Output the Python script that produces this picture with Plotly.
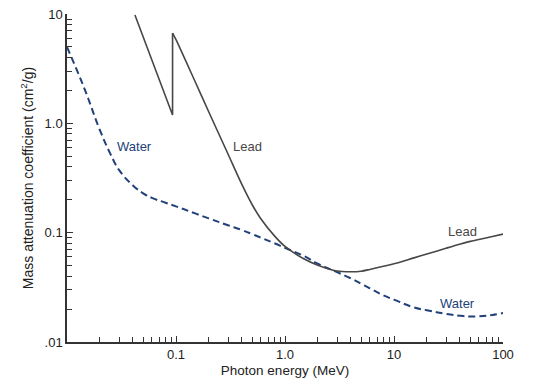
import plotly.graph_objects as go
import numpy as np

# Photon energy (MeV)
water_energy = [0.01, 0.013, 0.015, 0.02, 0.025, 0.03, 0.04, 0.05, 0.06, 0.08, 0.1, 0.15, 0.2, 0.3, 0.4,
                0.5, 0.6, 0.8, 1.0, 1.5, 2, 3, 4, 5, 6, 8, 10, 15, 20, 30, 40, 50, 60, 80, 100]
water_mu = [4.99, 2.7, 1.89, 0.87, 0.526, 0.375, 0.272, 0.229, 0.208, 0.188, 0.174, 0.150, 0.135, 0.117,
            0.106, 0.097, 0.090, 0.080, 0.0725, 0.061, 0.052, 0.0436, 0.0383, 0.0341, 0.031, 0.0267,
            0.0244, 0.0208, 0.0195, 0.0181, 0.0174, 0.0171, 0.0172, 0.0177, 0.0184]

lead_energy = [0.042, 0.05, 0.06, 0.08, 0.093, 0.093, 0.1, 0.15, 0.2, 0.3, 0.4, 0.5, 0.6, 0.8, 1.0,
               1.5, 2, 3, 4, 5, 6, 8, 10, 15, 20, 30, 40, 50, 60, 80, 100]
lead_mu = [9.8, 6.2, 3.86, 1.81, 1.19, 6.7, 5.83, 2.40, 1.27, 0.524, 0.279, 0.180, 0.134, 0.0935, 0.0748,
           0.0574, 0.0504, 0.0446, 0.0439, 0.0444, 0.0461, 0.0493, 0.0519, 0.0585, 0.0637, 0.0721,
           0.0785, 0.0832, 0.0865, 0.0922, 0.097]

x_tick_vals = [0.1, 1, 10, 100]
x_tick_text = ["0.1", "1.0", "10", "100"]
y_tick_vals = [0.01, 0.1, 1, 10]
y_tick_text = [".01", "0.1", "1.0", "10"]

minor_x = [m * 10.0 ** d for d in range(-2, 2) for m in range(2, 10)]
minor_y = [m * 10.0 ** d for d in range(-2, 1) for m in range(2, 10)]

WATER = "#22417a"
LEAD = "#474747"
AX = "#333333"
TXT = "#222222"
FONT = "Liberation Sans, Arial, sans-serif"

EDGE = 5  # index of the top of the lead K-edge

fig = go.Figure()
fig.add_trace(go.Scatter(x=water_energy, y=water_mu, mode="lines",
                         line=dict(color=WATER, width=2, dash="7px,4px", shape="spline", smoothing=1.2),
                         showlegend=False))
fig.add_trace(go.Scatter(x=lead_energy[:EDGE + 1], y=lead_mu[:EDGE + 1], mode="lines",
                         line=dict(color=LEAD, width=1.6), showlegend=False))
fig.add_trace(go.Scatter(x=lead_energy[EDGE:], y=lead_mu[EDGE:], mode="lines",
                         line=dict(color=LEAD, width=1.6, shape="spline", smoothing=0.8),
                         showlegend=False))

annots = [
    ("Water", 0.0412, 0.62, WATER),
    ("Lead", 0.455, 0.62, LEAD),
    ("Lead", 42.1, 0.1035, LEAD),
    ("Water", 38.6, 0.0227, WATER),
]
for t, x, y, c in annots:
    fig.add_annotation(x=np.log10(x), y=np.log10(y), text=t, showarrow=False,
                       font=dict(color=c, size=13, family=FONT))

# page body has an 8px margin, so the figure is drawn 8px smaller and shifted
fig.update_layout(
    width=526, height=373,
    margin=dict(l=59, r=31, t=6, b=39),
    paper_bgcolor="white", plot_bgcolor="white",
    font=dict(family=FONT, size=12, color=TXT),
    xaxis=dict(type="log", range=[-2, 2], showgrid=False, zeroline=False, automargin=False,
               showline=True, linecolor=AX, linewidth=1.5,
               ticks="inside", ticklen=6, tickcolor=AX, tickwidth=1,
               tickmode="array", tickvals=x_tick_vals, ticktext=x_tick_text,
               tickfont=dict(size=13, color=TXT), ticklabeloverflow="allow",
               minor=dict(ticks="inside", ticklen=5, tickcolor=AX, tickwidth=1,
                          tickmode="array", tickvals=minor_x, showgrid=False),
               title=dict(text="Photon energy (MeV)", font=dict(size=13.5, color=TXT), standoff=4)),
    yaxis=dict(type="log", range=[-2, 1], showgrid=False, zeroline=False, automargin=False,
               showline=True, linecolor=AX, linewidth=1.5,
               ticks="inside", ticklen=6, tickcolor=AX, tickwidth=1,
               tickmode="array", tickvals=y_tick_vals, ticktext=y_tick_text,
               tickfont=dict(size=13, color=TXT), ticklabeloverflow="allow",
               minor=dict(ticks="inside", ticklen=5, tickcolor=AX, tickwidth=1,
                          tickmode="array", tickvals=minor_y, showgrid=False),
               title=dict(text="Mass attenuation coefficient (cm<sup>2</sup>/g)",
                          font=dict(size=14, color=TXT), standoff=8)),
)

fig.write_html("out.html")
